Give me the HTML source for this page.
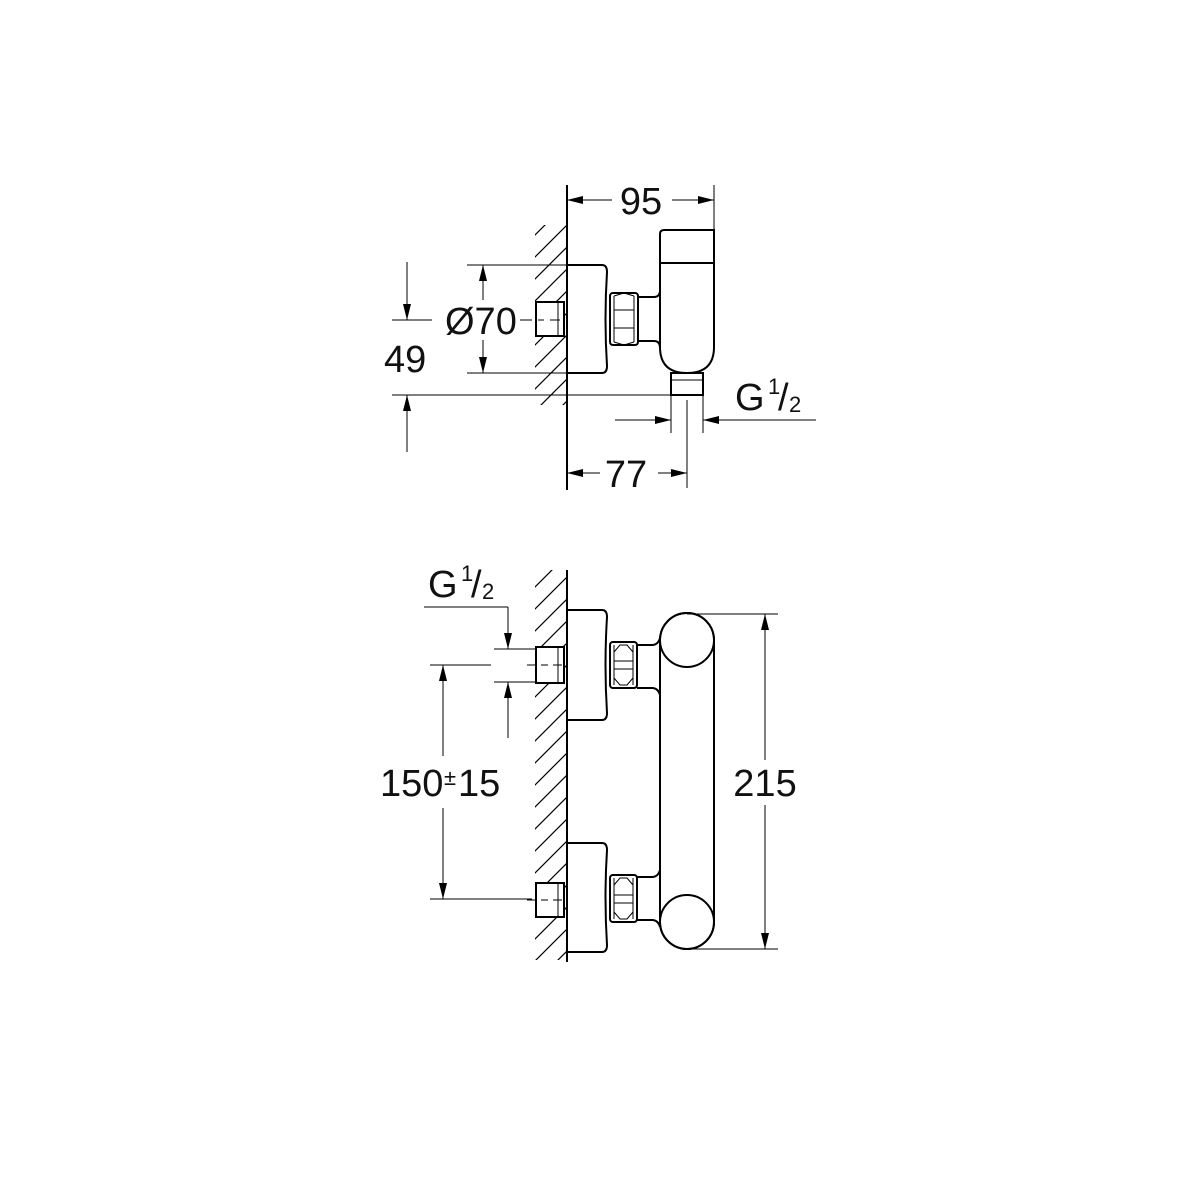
<!DOCTYPE html>
<html><head><style>body{margin:0;background:#fff}svg{display:block}text{font-family:"Liberation Sans",sans-serif;fill:#111}</style></head><body>
<svg width="1200" height="1200" viewBox="0 0 1200 1200" xmlns="http://www.w3.org/2000/svg">
<defs>
<marker id="a" viewBox="0 0 16 8" refX="16" refY="4" markerWidth="16" markerHeight="8" markerUnits="userSpaceOnUse" orient="auto"><path d="M0,0L16,4L0,8z" fill="#000"/></marker>
<pattern id="hp" width="22" height="22" patternUnits="userSpaceOnUse"><path d="M0,22L22,0M-11,11L11,-11M11,33L33,11" stroke="#000" stroke-width="1.2"/></pattern>
</defs>
<g stroke="#000" fill="none" stroke-width="1.5">
<!-- TOP VIEW -->
<rect x="535" y="225" width="32" height="180" fill="url(#hp)" stroke="none"/>
<rect x="535" y="302" width="30" height="34" fill="#fff" stroke="none"/>
<line x1="567" y1="185" x2="567" y2="490" stroke-width="2"/>
<line x1="714" y1="185" x2="714" y2="232" stroke-width="1"/>
<path d="M612,200L567,200" marker-end="url(#a)" stroke-width="1"/>
<path d="M672,200L714,200" marker-end="url(#a)" stroke-width="1"/>
<!-- body -->
<path d="M664,230H714V263H660V234Q660,230 664,230Z" stroke-width="2"/>
<path d="M660,263V347Q660,373 687,373Q714,373 714,347V263" stroke-width="2"/>
<rect x="671" y="373" width="32" height="22" stroke-width="2"/>
<line x1="671" y1="380" x2="703" y2="380" stroke-width="1"/>
<!-- rosette -->
<path d="M567,265H602Q607,265 607,272Q604,319 607,366Q607,373 602,373H567" stroke-width="2"/>
<!-- nut -->
<rect x="610" y="293" width="28" height="52" rx="3" stroke-width="2"/>
<path d="M614,296L624,293M634,296L624,293M614,310H634M614,328H634M614,342L624,345M634,342L624,345M614,296V342M634,296V342" stroke-width="1"/>
<path d="M638,297H654Q660,297 660,290M638,341H654Q660,341 660,348" stroke-width="2"/>
<!-- stub -->
<rect x="536" y="302" width="28" height="34" stroke-width="2"/>
<line x1="558" y1="302" x2="558" y2="336" stroke-width="1"/>
<path d="M520,320H532M538,320H544M550,320H560" stroke-width="1"/>
<!-- Ø70 -->
<line x1="467" y1="265" x2="567" y2="265" stroke-width="1"/>
<line x1="467" y1="373" x2="567" y2="373" stroke-width="1"/>
<path d="M483,300V265" marker-end="url(#a)" stroke-width="1"/>
<path d="M483,340V373" marker-end="url(#a)" stroke-width="1"/>
<!-- 49 -->
<path d="M407,262V320" marker-end="url(#a)" stroke-width="1"/>
<line x1="392" y1="320" x2="432" y2="320" stroke-width="1"/>
<line x1="392" y1="395" x2="703" y2="395" stroke-width="1"/>
<path d="M407,452V395" marker-end="url(#a)" stroke-width="1"/>
<!-- G1/2 top -->
<line x1="671" y1="395" x2="671" y2="433" stroke-width="1"/>
<line x1="703" y1="395" x2="703" y2="433" stroke-width="1"/>
<path d="M615,420H671" marker-end="url(#a)" stroke-width="1"/>
<path d="M816,420H703" marker-end="url(#a)" stroke-width="1"/>
<!-- 77 -->
<line x1="687" y1="400" x2="687" y2="488" stroke-width="1"/>
<path d="M600,473H567" marker-end="url(#a)" stroke-width="1"/>
<path d="M658,473H687" marker-end="url(#a)" stroke-width="1"/>

<!-- BOTTOM VIEW -->
<rect x="535" y="570" width="32" height="390" fill="url(#hp)" stroke="none"/>
<rect x="535" y="647" width="30" height="36" fill="#fff" stroke="none"/>
<rect x="535" y="883" width="30" height="34" fill="#fff" stroke="none"/>
<line x1="567" y1="570" x2="567" y2="962" stroke-width="2"/>
<path d="M567,610H602Q607,610 607,617Q604,665 607,713Q607,720 602,720H567" stroke-width="2"/>
<path d="M567,843H602Q607,843 607,850Q604,897 607,945Q607,952 602,952H567" stroke-width="2"/>
<g stroke-width="1">
<rect x="610" y="642" width="27" height="46" rx="3" stroke-width="2"/>
<path d="M614,645V685M633,645V685M614,652L620,645H627L633,652M614,678L620,685H627L633,678M614,661H633M614,669H633"/>
<rect x="610" y="875" width="27" height="47" rx="3" stroke-width="2"/>
<path d="M614,878V919M633,878V919M614,885L620,878H627L633,885M614,912L620,919H627L633,912M614,895H633M614,903H633"/>
</g>
<path d="M637,645H652Q658,645 660,638M637,688H652Q658,688 660,695" stroke-width="2"/>
<path d="M637,877H652Q658,877 660,870M637,920H652Q658,920 660,927" stroke-width="2"/>
<path d="M660,640A27,27 0 0 1 714,640V922A27,27 0 0 1 660,922Z" stroke-width="2"/>
<circle cx="687" cy="640" r="27" stroke-width="2"/>
<circle cx="687" cy="922" r="27" stroke-width="2"/>
<rect x="536" y="647" width="28" height="36" stroke-width="2"/>
<line x1="558" y1="647" x2="558" y2="683" stroke-width="1"/>
<rect x="536" y="883" width="28" height="34" stroke-width="2"/>
<line x1="558" y1="883" x2="558" y2="917" stroke-width="1"/>
<path d="M527,665H535M541,665H548M553,665H562M527,900H535M541,900H548M553,900H562" stroke-width="1"/>
<line x1="424" y1="607" x2="508" y2="607" stroke-width="1"/>
<path d="M508,607V649" marker-end="url(#a)" stroke-width="1"/>
<line x1="494" y1="649" x2="535" y2="649" stroke-width="1"/>
<line x1="494" y1="682" x2="535" y2="682" stroke-width="1"/>
<path d="M508,738V682" marker-end="url(#a)" stroke-width="1"/>
<line x1="430" y1="665" x2="491" y2="665" stroke-width="1"/>
<line x1="430" y1="899" x2="532" y2="899" stroke-width="1"/>
<path d="M443,756V665" marker-end="url(#a)" stroke-width="1"/>
<path d="M443,808V899" marker-end="url(#a)" stroke-width="1"/>
<line x1="687" y1="614" x2="778" y2="614" stroke-width="1"/>
<line x1="687" y1="949" x2="778" y2="949" stroke-width="1"/>
<path d="M765,760V614" marker-end="url(#a)" stroke-width="1"/>
<path d="M765,805V949" marker-end="url(#a)" stroke-width="1"/>
</g>
<g font-size="38">
<text x="641" y="214" text-anchor="middle">95</text>
<text x="445" y="334">Ø70</text>
<text x="384" y="372">49</text>
<text x="735" y="410">G</text>
<text x="768" y="394" font-size="22">1</text>
<text x="778" y="410">/</text>
<text x="789" y="412" font-size="22">2</text>
<text x="626" y="487" text-anchor="middle">77</text>
<text x="428" y="597">G</text>
<text x="461" y="581" font-size="22">1</text>
<text x="471" y="597">/</text>
<text x="482" y="599" font-size="22">2</text>
<text x="380" y="796">150</text>
<text x="444" y="785" font-size="22">±</text>
<text x="458" y="796">15</text>
<text x="765" y="796" text-anchor="middle">215</text>
</g>
</svg>
</body></html>
